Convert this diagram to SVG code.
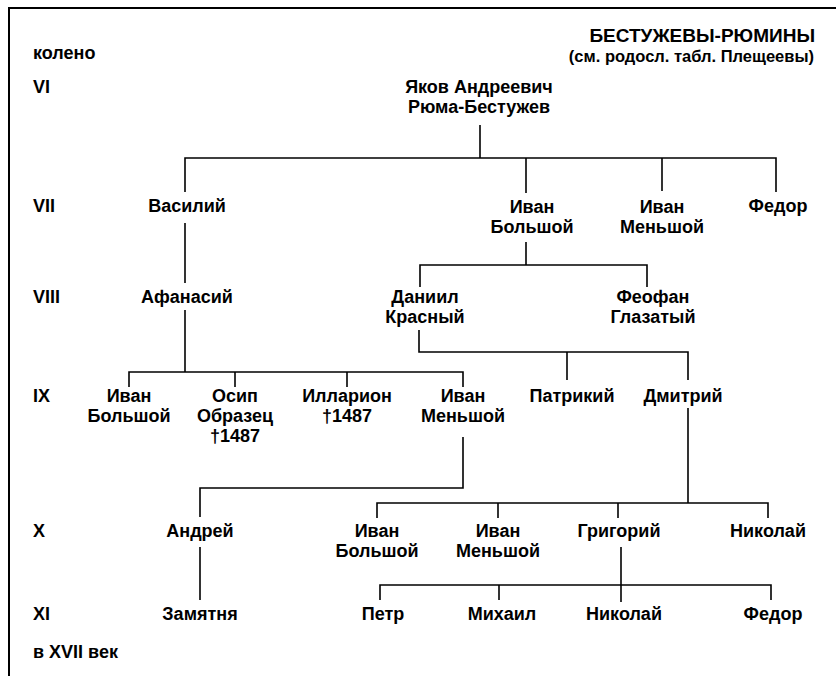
<svg xmlns="http://www.w3.org/2000/svg" width="836" height="676" viewBox="0 0 836 676">
<style>
text{font-family:"Liberation Sans",Arial,sans-serif;font-weight:bold;font-size:18px;fill:#000;text-anchor:middle}
.l{text-anchor:start}
.r{text-anchor:end}
.title{font-size:19px}
.sub{font-size:16.5px}
.c line,.c polyline{stroke:#000;stroke-width:1.6;fill:none}
.frame{stroke:#000;stroke-width:2;fill:none}
</style>
<rect width="836" height="676" fill="#fff"/>
<polyline class="frame" points="9,676 9,8 836,8"/>
<g id="header">
<text class="r title" x="815" y="42">БЕСТУЖЕВЫ-РЮМИНЫ</text>
<text class="r sub" x="814" y="62">(см. родосл. табл. Плещеевы)</text>
<text class="l" x="33" y="59">колено</text>
</g>
<g id="generations">
<text class="l" x="33" y="93">VI</text>
<text class="l" x="33" y="212">VII</text>
<text class="l" x="33" y="303">VIII</text>
<text class="l" x="33" y="402">IX</text>
<text class="l" x="33" y="537">X</text>
<text class="l" x="33" y="620">XI</text>
<text class="l" x="33" y="658">в XVII век</text>
</g>
<g class="c" id="connectors">
<line x1="480" y1="125" x2="480" y2="158"/>
<polyline points="185,192 185,158 776,158 776,192"/>
<line x1="526" y1="158" x2="526" y2="193"/>
<line x1="662" y1="158" x2="662" y2="191"/>
<line x1="185" y1="223" x2="185" y2="283"/>
<line x1="185" y1="310" x2="185" y2="372"/>
<polyline points="129,387 129,372 463,372 463,387"/>
<line x1="235" y1="372" x2="235" y2="387"/>
<line x1="347" y1="372" x2="347" y2="387"/>
<line x1="526" y1="242" x2="526" y2="265"/>
<polyline points="420,287 420,265 647,265 647,287"/>
<polyline points="419,330 419,352 688,352 688,380"/>
<line x1="567" y1="352" x2="567" y2="380"/>
<polyline points="463,437 463,488 200,488 200,517"/>
<line x1="688" y1="408" x2="688" y2="503"/>
<polyline points="377,518 377,503 768,503 768,518"/>
<line x1="498" y1="503" x2="498" y2="518"/>
<line x1="618" y1="503" x2="618" y2="518"/>
<line x1="200" y1="547" x2="200" y2="600"/>
<line x1="621" y1="547" x2="621" y2="602"/>
<polyline points="380,600 380,585 771,585 771,600"/>
<line x1="499" y1="585" x2="499" y2="600"/>
</g>
<g id="yakov"><text x="479" y="93">Яков Андреевич</text><text x="479" y="113">Рюма-Бестужев</text></g>
<g id="vasily"><text x="187" y="212">Василий</text></g>
<g id="ivan-b7"><text x="532" y="213">Иван</text><text x="532" y="233">Большой</text></g>
<g id="ivan-m7"><text x="662" y="213">Иван</text><text x="662" y="233">Меньшой</text></g>
<g id="fedor7"><text x="778" y="212">Федор</text></g>
<g id="afanasy"><text x="187" y="303">Афанасий</text></g>
<g id="daniil"><text x="425" y="303">Даниил</text><text x="425" y="323">Красный</text></g>
<g id="feofan"><text x="653" y="303">Феофан</text><text x="653" y="323">Глазатый</text></g>
<g id="ivan-b9"><text x="129" y="402">Иван</text><text x="129" y="422">Большой</text></g>
<g id="osip"><text x="235" y="402">Осип</text><text x="235" y="422">Образец</text><text x="235" y="442">†1487</text></g>
<g id="illarion"><text x="347" y="402">Илларион</text><text x="347" y="422">†1487</text></g>
<g id="ivan-m9"><text x="463" y="402">Иван</text><text x="463" y="422">Меньшой</text></g>
<g id="patriky"><text x="572" y="402">Патрикий</text></g>
<g id="dmitry"><text x="683" y="402">Дмитрий</text></g>
<g id="andrey"><text x="200" y="537">Андрей</text></g>
<g id="ivan-b10"><text x="377" y="537">Иван</text><text x="377" y="557">Большой</text></g>
<g id="ivan-m10"><text x="498" y="537">Иван</text><text x="498" y="557">Меньшой</text></g>
<g id="grigory"><text x="619" y="537">Григорий</text></g>
<g id="nikolay10"><text x="768" y="537">Николай</text></g>
<g id="zamyatnya"><text x="200" y="620">Замятня</text></g>
<g id="petr"><text x="383" y="620">Петр</text></g>
<g id="mikhail"><text x="502" y="620">Михаил</text></g>
<g id="nikolay11"><text x="624" y="620">Николай</text></g>
<g id="fedor11"><text x="773" y="620">Федор</text></g>
</svg>
